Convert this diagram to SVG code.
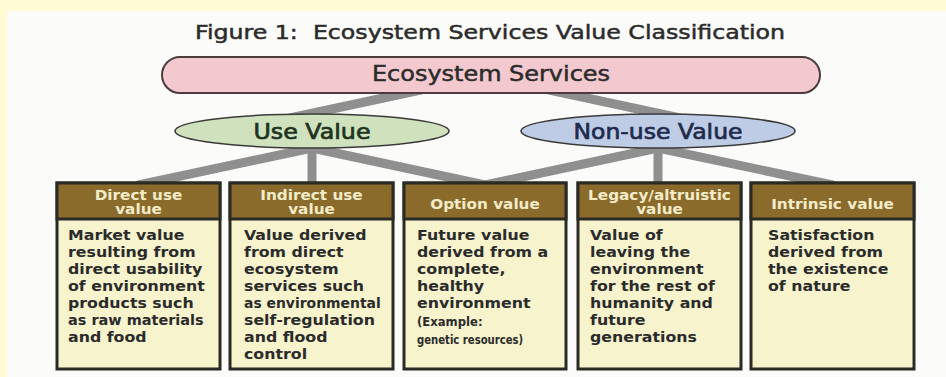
<svg xmlns="http://www.w3.org/2000/svg" width="946" height="377" viewBox="0 0 946 377">
  <style>
    .title { font-family: "DejaVu Sans", Verdana, sans-serif; font-size: 20px; fill: #2b2b2b; stroke: #2b2b2b; stroke-width: 0.5; }
    .root-label { font-family: "DejaVu Sans", Verdana, sans-serif; font-size: 21px; fill: #2b2b2b; stroke: #2b2b2b; stroke-width: 0.5; text-anchor: middle; }
    .cat-label { font-family: "DejaVu Sans", Verdana, sans-serif; font-size: 21px; stroke-width: 0.7; text-anchor: middle; }
    .root { fill: #f3c9cf; stroke: #4a3b3d; stroke-width: 2; }
    .use { fill: #cfe2bd; stroke: #3a3a3a; stroke-width: 1.6; }
    .nonuse { fill: #bfcce6; stroke: #3a3a3a; stroke-width: 1.6; }
    .box { fill: #f6f3cd; stroke: #2b2b26; stroke-width: 3; }
    .head { fill: #8a6b2c; stroke: #2b2b26; stroke-width: 3; }
    .hd { font-family: "DejaVu Sans", Verdana, sans-serif; font-weight: bold; font-size: 13.5px; fill: #f4ecc8; text-anchor: middle; }
    .body { font-family: "DejaVu Sans", Verdana, sans-serif; font-weight: bold; font-size: 14px; fill: #2b2b2b; }
    .small { font-size: 12.5px; }
    .conn line { stroke: #8f8f8f; stroke-width: 9; stroke-linecap: round; }
  </style>

  <!-- page background and panel -->
  <rect x="0" y="0" width="946" height="377" fill="#fffbd4"/>
  <rect x="7" y="11" width="939" height="366" fill="#fbfbf9"/>

  <text class="title" x="195" y="39" textLength="590" lengthAdjust="spacingAndGlyphs" xml:space="preserve">Figure 1:  Ecosystem Services Value Classification</text>

  <!-- connectors -->
  <g id="connectors" class="conn">
    <line x1="430" y1="88" x2="290" y2="118"/>
    <line x1="540" y1="88" x2="680" y2="118"/>
    <line x1="312" y1="148" x2="138.5" y2="185"/>
    <line x1="312" y1="146" x2="312" y2="186"/>
    <line x1="312" y1="148" x2="485" y2="185"/>
    <line x1="658" y1="148" x2="485" y2="185"/>
    <line x1="658" y1="146" x2="658" y2="186"/>
    <line x1="658" y1="148" x2="832.5" y2="185"/>
  </g>

  <g id="ecosystem-services">
    <rect class="root" x="162" y="57" width="658" height="36" rx="18" ry="18"/>
    <text class="root-label" x="491" y="81" textLength="238" lengthAdjust="spacingAndGlyphs">Ecosystem Services</text>
  </g>

  <g id="use-value">
    <ellipse class="use" cx="312" cy="131" rx="137" ry="17"/>
    <text class="cat-label" x="312" y="138.5" fill="#1e3320" stroke="#1e3320" textLength="117" lengthAdjust="spacingAndGlyphs">Use Value</text>
  </g>

  <g id="non-use-value">
    <ellipse class="nonuse" cx="658" cy="131" rx="137" ry="17"/>
    <text class="cat-label" x="658" y="138.5" fill="#1f2b4d" stroke="#1f2b4d" textLength="169" lengthAdjust="spacingAndGlyphs">Non-use Value</text>
  </g>

  <g id="direct-use">
    <rect class="box" x="57" y="183" width="163" height="186"/>
    <rect class="head" x="57" y="183" width="163" height="36"/>
    <g transform="translate(138.5,0) scale(1.13,1)">
      <text class="hd" x="0" y="200">Direct use</text>
      <text class="hd" x="0" y="214">value</text>
    </g>
    <g transform="translate(68,0) scale(1.13,1)">
      <text class="body" x="0" y="240">Market value</text>
      <text class="body" x="0" y="257">resulting from</text>
      <text class="body" x="0" y="274">direct usability</text>
      <text class="body" x="0" y="291">of environment</text>
      <text class="body" x="0" y="308">products such</text>
      <text class="body" x="0" y="325" textLength="120" lengthAdjust="spacingAndGlyphs">as raw materials</text>
      <text class="body" x="0" y="342">and food</text>
    </g>
  </g>

  <g id="indirect-use">
    <rect class="box" x="230" y="183" width="163" height="186"/>
    <rect class="head" x="230" y="183" width="163" height="36"/>
    <g transform="translate(311.5,0) scale(1.13,1)">
      <text class="hd" x="0" y="200">Indirect use</text>
      <text class="hd" x="0" y="214">value</text>
    </g>
    <g transform="translate(244,0) scale(1.13,1)">
      <text class="body" x="0" y="240">Value derived</text>
      <text class="body" x="0" y="257">from direct</text>
      <text class="body" x="0" y="274">ecosystem</text>
      <text class="body" x="0" y="291">services such</text>
      <text class="body" x="0" y="308" textLength="121" lengthAdjust="spacingAndGlyphs">as environmental</text>
      <text class="body" x="0" y="325">self-regulation</text>
      <text class="body" x="0" y="342">and flood</text>
      <text class="body" x="0" y="359">control</text>
    </g>
  </g>

  <g id="option-value">
    <rect class="box" x="404" y="183" width="162" height="186"/>
    <rect class="head" x="404" y="183" width="162" height="36"/>
    <g transform="translate(485,0) scale(1.13,1)">
      <text class="hd" x="0" y="209">Option value</text>
    </g>
    <g transform="translate(417,0) scale(1.13,1)">
      <text class="body" x="0" y="240">Future value</text>
      <text class="body" x="0" y="257">derived from a</text>
      <text class="body" x="0" y="274">complete,</text>
      <text class="body" x="0" y="291">healthy</text>
      <text class="body" x="0" y="308">environment</text>
      <text class="body small" x="0" y="326" textLength="58" lengthAdjust="spacingAndGlyphs">(Example:</text>
      <text class="body small" x="0" y="344" textLength="94" lengthAdjust="spacingAndGlyphs">genetic resources)</text>
    </g>
  </g>

  <g id="legacy-altruistic">
    <rect class="box" x="578" y="183" width="163" height="186"/>
    <rect class="head" x="578" y="183" width="163" height="36"/>
    <g transform="translate(659.5,0) scale(1.13,1)">
      <text class="hd" x="0" y="200">Legacy/altruistic</text>
      <text class="hd" x="0" y="214">value</text>
    </g>
    <g transform="translate(590,0) scale(1.13,1)">
      <text class="body" x="0" y="240">Value of</text>
      <text class="body" x="0" y="257">leaving the</text>
      <text class="body" x="0" y="274">environment</text>
      <text class="body" x="0" y="291">for the rest of</text>
      <text class="body" x="0" y="308">humanity and</text>
      <text class="body" x="0" y="325">future</text>
      <text class="body" x="0" y="342">generations</text>
    </g>
  </g>

  <g id="intrinsic-value">
    <rect class="box" x="751" y="183" width="163" height="186"/>
    <rect class="head" x="751" y="183" width="163" height="36"/>
    <g transform="translate(832.5,0) scale(1.13,1)">
      <text class="hd" x="0" y="209">Intrinsic value</text>
    </g>
    <g transform="translate(768,0) scale(1.13,1)">
      <text class="body" x="0" y="240">Satisfaction</text>
      <text class="body" x="0" y="257">derived from</text>
      <text class="body" x="0" y="274">the existence</text>
      <text class="body" x="0" y="291">of nature</text>
    </g>
  </g>
</svg>
